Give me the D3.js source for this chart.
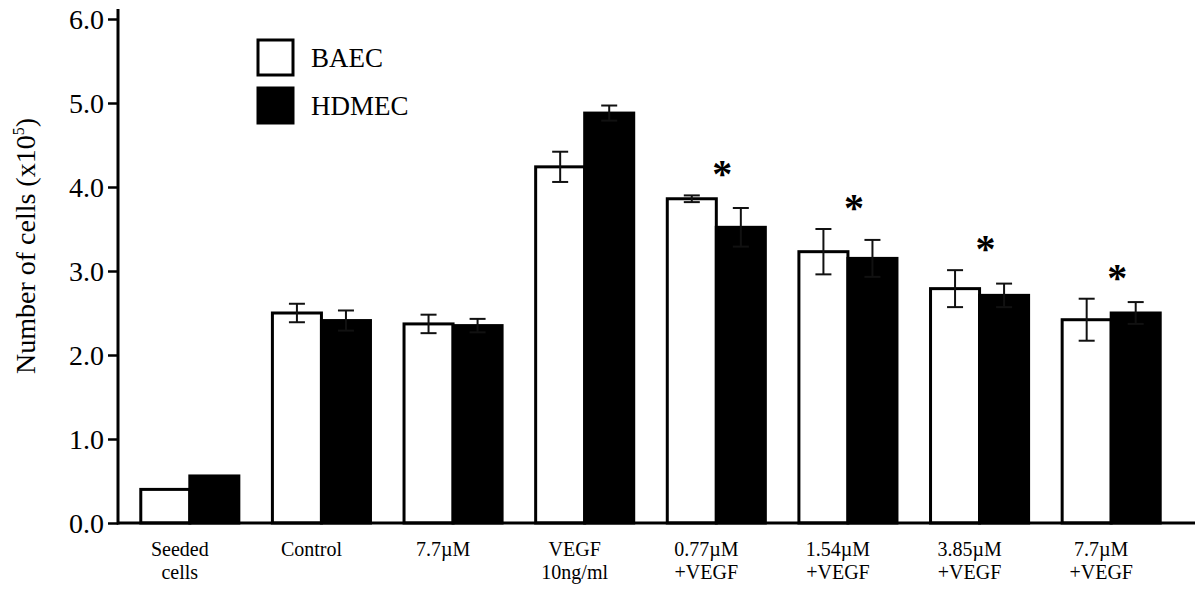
<!DOCTYPE html>
<html>
<head>
<meta charset="utf-8">
<script src="https://cdn.jsdelivr.net/npm/d3@7"></script>
<style>
  body { margin: 0; background: #fff; }
  svg text { font-family: "Liberation Serif", "Times New Roman", serif !important; fill: #000; }
</style>
</head>
<body>
<svg id="chart" width="1200" height="589"></svg>
<script>
// groups along the x axis (line breaks split the label)
const categories = ["Seeded\ncells", "Control", "7.7\u00b5M", "VEGF\n10ng/ml",
  "0.77\u00b5M\n+VEGF", "1.54\u00b5M\n+VEGF", "3.85\u00b5M\n+VEGF", "7.7\u00b5M\n+VEGF"];
const series = ["BAEC", "HDMEC"];

// number of cells (x10^5)
const baec = [0.40, 2.50, 2.37, 4.24, 3.86, 3.23, 2.79, 2.42];
const baecErr = [0, 0.11, 0.11, 0.18, 0.04, 0.27, 0.22, 0.25];
const hdmec = [0.56, 2.41, 2.35, 4.88, 3.52, 3.15, 2.71, 2.50];
const hdmecErr = [0, 0.12, 0.08, 0.09, 0.23, 0.22, 0.14, 0.13];
const significant = [false, false, false, false, true, true, true, true];
const yTicks = [0, 1, 2, 3, 4, 5, 6];

const svg = d3.select("#chart");

const x0 = d3.scaleBand()
  .domain(categories)
  .range([124, 1177])
  .paddingInner(0.255)
  .paddingOuter(0.1275);

const x1 = d3.scaleBand()
  .domain(series)
  .range([0, x0.bandwidth()]);

const y = d3.scaleLinear()
  .domain([0, 6])
  .range([523, 19]);

const rows = categories.map((c, i) => ({
  cat: c,
  vals: [
    { s: "BAEC", v: baec[i], e: baecErr[i] },
    { s: "HDMEC", v: hdmec[i], e: hdmecErr[i] }
  ],
  sig: significant[i]
}));

// bars
const groups = svg.selectAll("g.grp")
  .data(rows)
  .enter()
  .append("g")
  .attr("class", "grp")
  .attr("transform", d => "translate(" + x0(d.cat) + ",0)");

groups.selectAll("rect")
  .data(d => d.vals)
  .enter()
  .append("rect")
  .attr("x", d => x1(d.s))
  .attr("y", d => y(d.v))
  .attr("width", x1.bandwidth())
  .attr("height", d => y(0) - y(d.v))
  .attr("fill", d => d.s == "BAEC" ? "#fff" : "#000")
  .attr("stroke", "#000")
  .attr("stroke-width", 3);

// error bars
const cap = 8;
const eb = groups.selectAll("g.err")
  .data(d => d.vals.filter(v => v.e > 0))
  .enter()
  .append("g")
  .attr("stroke", "#111")
  .attr("stroke-width", 2);

eb.append("line")
  .attr("x1", d => x1(d.s) + x1.bandwidth() / 2)
  .attr("x2", d => x1(d.s) + x1.bandwidth() / 2)
  .attr("y1", d => y(d.v + d.e))
  .attr("y2", d => y(d.v - d.e));
eb.append("line")
  .attr("x1", d => x1(d.s) + x1.bandwidth() / 2 - cap)
  .attr("x2", d => x1(d.s) + x1.bandwidth() / 2 + cap)
  .attr("y1", d => y(d.v + d.e))
  .attr("y2", d => y(d.v + d.e));
eb.append("line")
  .attr("x1", d => x1(d.s) + x1.bandwidth() / 2 - cap)
  .attr("x2", d => x1(d.s) + x1.bandwidth() / 2 + cap)
  .attr("y1", d => y(d.v - d.e))
  .attr("y2", d => y(d.v - d.e));

// significance stars
groups.filter(d => d.sig)
  .append("text")
  .attr("x", x0.bandwidth() / 2 + 6)
  .attr("y", d => y(d3.max(d.vals, v => v.v + v.e)) - 8)
  .attr("text-anchor", "middle")
  .style("font-size", "40px")
  .style("font-weight", "bold")
  .text("*");

// y axis
const yAxis = svg.append("g")
  .attr("transform", "translate(118,0)")
  .call(d3.axisLeft(y).tickValues(yTicks).tickFormat(d3.format(".1f")).tickSize(10).tickSizeOuter(0));
yAxis.select(".domain").remove();
yAxis.selectAll(".tick line").attr("stroke", "#000").attr("stroke-width", 2.5);
yAxis.selectAll(".tick text")
  .style("font-size", "28px")
  .attr("dy", "0.34em")
  .attr("x", -14);

svg.append("line")
  .attr("x1", 118).attr("x2", 118)
  .attr("y1", 9).attr("y2", y(0) + 1.5)
  .attr("stroke", "#000").attr("stroke-width", 3);

// x axis line
svg.append("line")
  .attr("x1", 117).attr("x2", 1195)
  .attr("y1", y(0)).attr("y2", y(0))
  .attr("stroke", "#000").attr("stroke-width", 3);

// x labels
const xl = svg.append("g")
  .selectAll("text")
  .data(categories)
  .enter()
  .append("text")
  .attr("text-anchor", "middle")
  .style("font-size", "20px")
  .attr("transform", d => "translate(" + (x0(d) + x0.bandwidth() / 2 - 10) + ",556)");
xl.selectAll("tspan")
  .data(d => d.split("\n"))
  .enter()
  .append("tspan")
  .attr("x", 0)
  .attr("dy", (d, i) => i == 0 ? 0 : 23)
  .text(d => d);

// y label
const yl = svg.append("text")
  .attr("transform", "translate(35,246) rotate(-90)")
  .attr("text-anchor", "middle")
  .style("font-size", "28px");
yl.append("tspan").text("Number of cells (x10");
yl.append("tspan").style("font-size", "16px").attr("dy", -11).text("5");
yl.append("tspan").attr("dy", 11).text(")");

// legend
const lg = svg.append("g").attr("transform", "translate(258,40)");
series.forEach((s, i) => {
  lg.append("rect")
    .attr("x", 0)
    .attr("y", i * 48)
    .attr("width", 35)
    .attr("height", 35)
    .attr("fill", i == 0 ? "#fff" : "#000")
    .attr("stroke", "#000")
    .attr("stroke-width", 3);
  lg.append("text")
    .attr("x", 53)
    .attr("y", i * 48 + 27)
    .style("font-size", "27px")
    .text(s);
});
</script>
</body>
</html>
